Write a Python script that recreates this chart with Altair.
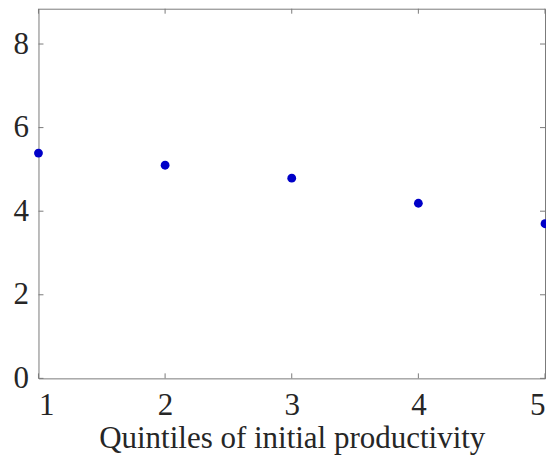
import altair as alt
import pandas as pd

quintiles = [1, 2, 3, 4, 5]
values = [5.39, 5.10, 4.79, 4.19, 3.70]
y_ticks = [0, 2, 4, 6, 8]
x_ticks = [1, 2, 3, 4, 5]

W, H = 507, 370
FONT = "Liberation Serif"
GRAY = "#7a7a7a"

df = pd.DataFrame({"q": quintiles, "v": values})
yt = pd.DataFrame({"t": y_ticks})
xt = pd.DataFrame({"t": x_ticks})

xscale = alt.Scale(domain=[1, 5], nice=False, zero=False)
yscale = alt.Scale(domain=[0, 8.845], nice=False)

points = alt.Chart(df).mark_circle(size=78, color="#0000C8", opacity=1).encode(
    x=alt.X("q:Q", scale=xscale,
            axis=alt.Axis(values=x_ticks, title="Quintiles of initial productivity",
                          domain=False, ticks=False, grid=False, labelPadding=12,
                          titleY=69, titleBaseline="alphabetic", format="d")),
    y=alt.Y("v:Q", scale=yscale,
            axis=alt.Axis(values=y_ticks, title=None, domain=False, ticks=False,
                          grid=False, labelPadding=10, format="d")),
)

left_ticks = alt.Chart(yt).mark_rule(color=GRAY, strokeWidth=1).encode(
    y=alt.Y("t:Q", scale=yscale), x=alt.value(0), x2=alt.value(5))
right_ticks = alt.Chart(yt).mark_rule(color=GRAY, strokeWidth=1).encode(
    y=alt.Y("t:Q", scale=yscale), x=alt.value(W - 5), x2=alt.value(W))
bottom_ticks = alt.Chart(xt).mark_rule(color=GRAY, strokeWidth=1).encode(
    x=alt.X("t:Q", scale=xscale), y=alt.value(H), y2=alt.value(H - 5))
top_ticks = alt.Chart(xt).mark_rule(color=GRAY, strokeWidth=1).encode(
    x=alt.X("t:Q", scale=xscale), y=alt.value(0), y2=alt.value(5))

chart = alt.layer(left_ticks, right_ticks, bottom_ticks, top_ticks, points).properties(
    width=W, height=H,
    autosize=alt.AutoSizeParams(type="none"),
    padding={"left": 30.5, "top": 0.5, "right": 1, "bottom": 77},
    background="white",
).configure_view(
    stroke=GRAY, strokeWidth=1
).configure_axis(
    labelFont=FONT, titleFont=FONT, labelFontSize=31, titleFontSize=31,
    labelColor="#262626", titleColor="#262626", titleFontWeight="normal",
)

chart.save("out.html", embed_options={"renderer": "svg", "actions": False})
